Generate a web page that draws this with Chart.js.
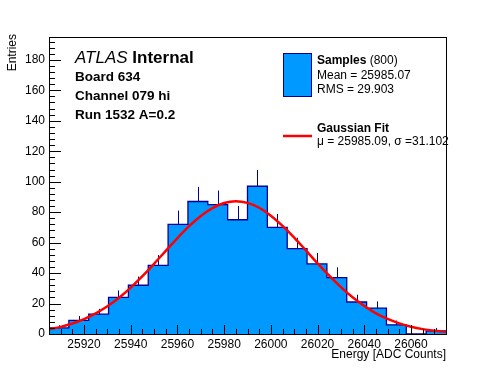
<!DOCTYPE html>
<html>
<head>
<meta charset="utf-8">
<script src="https://cdn.jsdelivr.net/npm/chart.js"></script>
<style>
  html, body { margin: 0; padding: 0; background: #ffffff; }
</style>
</head>
<body>
<canvas id="theChart" width="496" height="372"></canvas>
<script>
const fontFamily = '"Liberation Sans", Arial, Helvetica, sans-serif'

// histogram: 20 bins of 8.5 ADC counts
const binEdges = [25905, 25913.5, 25922, 25930.5, 25939, 25947.5, 25956, 25964.5, 25973, 25981.5,
  25990, 25998.5, 26007, 26015.5, 26024, 26032.5, 26041, 26049.5, 26058, 26066.5, 26075]
const counts = [4, 9, 13, 24, 32, 45, 72, 87, 85, 75, 97, 70, 56, 46, 37, 21, 17, 6, 0, 2]
const errors = [1.8, 2.8, 3.5, 4.6, 5.7, 6.8, 9.0, 9.6, 9.2, 9.0, 10.7, 8.8, 7.2, 7.2, 6.8, 4.8, 4.4, 2.8, 0, 2.0]

// gaussian fit curve
const fitX = [25905, 25910, 25915, 25920, 25925, 25930, 25935, 25940, 25945, 25950, 25955, 25960,
  25965, 25970, 25975, 25980, 25985, 25990, 25995, 26000, 26005, 26010, 26015, 26020, 26025,
  26030, 26035, 26040, 26045, 26050, 26055, 26060, 26065, 26070, 26075]
const fitY = [3.2, 4.7, 6.9, 9.8, 13.5, 18.2, 23.8, 30.5, 38.0, 46.1, 54.6, 63.0, 70.8, 77.5, 82.7,
  86.0, 87.2, 86.1, 82.9, 77.7, 71.0, 63.3, 54.9, 46.4, 38.3, 30.8, 24.1, 18.4, 13.6, 9.9, 7.0,
  4.8, 3.2, 2.1, 1.3]

const xTicks = [25920, 25940, 25960, 25980, 26000, 26020, 26040, 26060]
const yTicks = [0, 20, 40, 60, 80, 100, 120, 140, 160, 180]

const fillBlue = "#0099ff"
const lineNavy = "#000099"
const fitRed = "#ff0000"

let histPoints = counts.map((c, i) => ({ x: binEdges[i], y: c }))
histPoints.push({ x: binEdges[binEdges.length - 1], y: counts[counts.length - 1] })

let errorBars = {
  id: "errorBars",
  afterDatasetDraw(chart, args) {
    if (args.index !== 0) return
    let ctx = chart.ctx
    let xs = chart.scales.x
    let ys = chart.scales.y
    ctx.save()
    ctx.strokeStyle = lineNavy
    ctx.lineWidth = 1
    counts.forEach((c, i) => {
      if (!errors[i]) return
      let px = Math.round(xs.getPixelForValue((binEdges[i] + binEdges[i + 1]) / 2)) + 0.5
      ctx.beginPath()
      ctx.moveTo(px, ys.getPixelForValue(c))
      ctx.lineTo(px, ys.getPixelForValue(c + errors[i]))
      ctx.stroke()
    })
    ctx.restore()
  }
}

let frameAndText = {
  id: "frameAndText",
  afterDraw(chart) {
    let ctx = chart.ctx
    let a = chart.chartArea
    let xs = chart.scales.x
    let ys = chart.scales.y
    ctx.save()
    ctx.strokeStyle = "#000"
    ctx.lineWidth = 1
    ctx.strokeRect(Math.round(a.left) + 0.5, Math.round(a.top) + 0.5,
      Math.round(a.right - a.left), Math.round(a.bottom - a.top))

    // ticks inside the frame
    ctx.beginPath()
    for (let v = 0; v <= ys.max; v += 4) {
      let py = Math.round(ys.getPixelForValue(v)) + 0.5
      let len = v % 20 === 0 ? 12 : 6
      ctx.moveTo(a.left, py)
      ctx.lineTo(a.left + len, py)
    }
    for (let v = 25905; v <= xs.max; v += 5) {
      let px = Math.round(xs.getPixelForValue(v)) + 0.5
      let len = v % 20 === 0 ? 9 : 5
      ctx.moveTo(px, a.bottom)
      ctx.lineTo(px, a.bottom - len)
    }
    ctx.stroke()

    ctx.fillStyle = "#000"
    ctx.textBaseline = "middle"

    // axis titles
    ctx.font = "12px " + fontFamily
    ctx.textAlign = "right"
    ctx.fillText("Energy [ADC Counts]", a.right, 355)
    ctx.save()
    ctx.translate(13, 34)
    ctx.rotate(-Math.PI / 2)
    ctx.fillText("Entries", 0, 0)
    ctx.restore()

    // ATLAS label
    ctx.textAlign = "left"
    ctx.font = "italic 17px " + fontFamily
    ctx.fillText("ATLAS", 75, 58)
    let w = ctx.measureText("ATLAS ").width
    ctx.font = "bold 17px " + fontFamily
    ctx.fillText("Internal", 75 + w, 58)
    ctx.font = "bold 13.5px " + fontFamily
    ctx.fillText("Board 634", 75, 77)
    ctx.fillText("Channel 079 hi", 75, 96)
    ctx.fillText("Run 1532 A=0.2", 75, 115)

    // legend
    ctx.fillStyle = fillBlue
    ctx.fillRect(283.5, 53.5, 28, 43)
    ctx.strokeStyle = lineNavy
    ctx.strokeRect(283.5, 53.5, 28, 43)
    ctx.strokeStyle = fitRed
    ctx.lineWidth = 2.5
    ctx.beginPath()
    ctx.moveTo(283, 136)
    ctx.lineTo(312, 136)
    ctx.stroke()

    ctx.fillStyle = "#000"
    ctx.font = "bold 12px " + fontFamily
    ctx.fillText("Samples", 317, 61)
    let ws = ctx.measureText("Samples ").width
    ctx.font = "12px " + fontFamily
    ctx.fillText("(800)", 317 + ws, 61)
    ctx.fillText("Mean = 25985.07", 317, 76)
    ctx.fillText("RMS = 29.903", 317, 90)
    ctx.font = "bold 12px " + fontFamily
    ctx.fillText("Gaussian Fit", 317, 129)
    ctx.font = "12px " + fontFamily
    ctx.fillText("\u03bc = 25985.09, \u03c3 =31.102", 317, 142)
    ctx.restore()
  }
}

let chart = document.getElementById("theChart").getContext("2d")

let currentChart = new Chart(chart, {
  type: "line",
  data: {
    datasets: [
      {
        label: "Samples",
        data: histPoints,
        stepped: true,
        borderColor: lineNavy,
        borderWidth: 1.3,
        backgroundColor: fillBlue,
        fill: "origin",
        pointRadius: 0,
        order: 2,
      },
      {
        label: "Gaussian Fit",
        data: fitX.map((x, i) => ({ x: x, y: fitY[i] })),
        borderColor: fitRed,
        borderWidth: 2.5,
        cubicInterpolationMode: "monotone",
        fill: false,
        pointRadius: 0,
        order: 1,
      },
    ],
  },
  options: {
    responsive: false,
    animation: false,
    devicePixelRatio: 1,
    layout: { padding: { left: 0, right: 50, top: 37, bottom: 0 } },
    plugins: { legend: { display: false }, tooltip: { enabled: false } },
    scales: {
      x: {
        type: "linear",
        min: 25905,
        max: 26075,
        grid: { display: false, drawTicks: false },
        border: { display: false },
        ticks: {
          color: "#000",
          font: { family: fontFamily, size: 12 },
          padding: 3,
          maxRotation: 0,
          autoSkip: false,
          callback: (v) => String(v),
        },
        afterBuildTicks: (s) => { s.ticks = xTicks.map((v) => ({ value: v })) },
        afterFit: (s) => { s.height = 38 },
      },
      y: {
        type: "linear",
        min: 0,
        max: 195,
        grid: { display: false, drawTicks: false },
        border: { display: false },
        ticks: {
          color: "#000",
          font: { family: fontFamily, size: 12 },
          padding: 4,
          autoSkip: false,
          callback: (v) => String(v),
        },
        afterBuildTicks: (s) => { s.ticks = yTicks.map((v) => ({ value: v })) },
        afterFit: (s) => { s.width = 49 },
      },
    },
  },
  plugins: [errorBars, frameAndText],
})
</script>
</body>
</html>
